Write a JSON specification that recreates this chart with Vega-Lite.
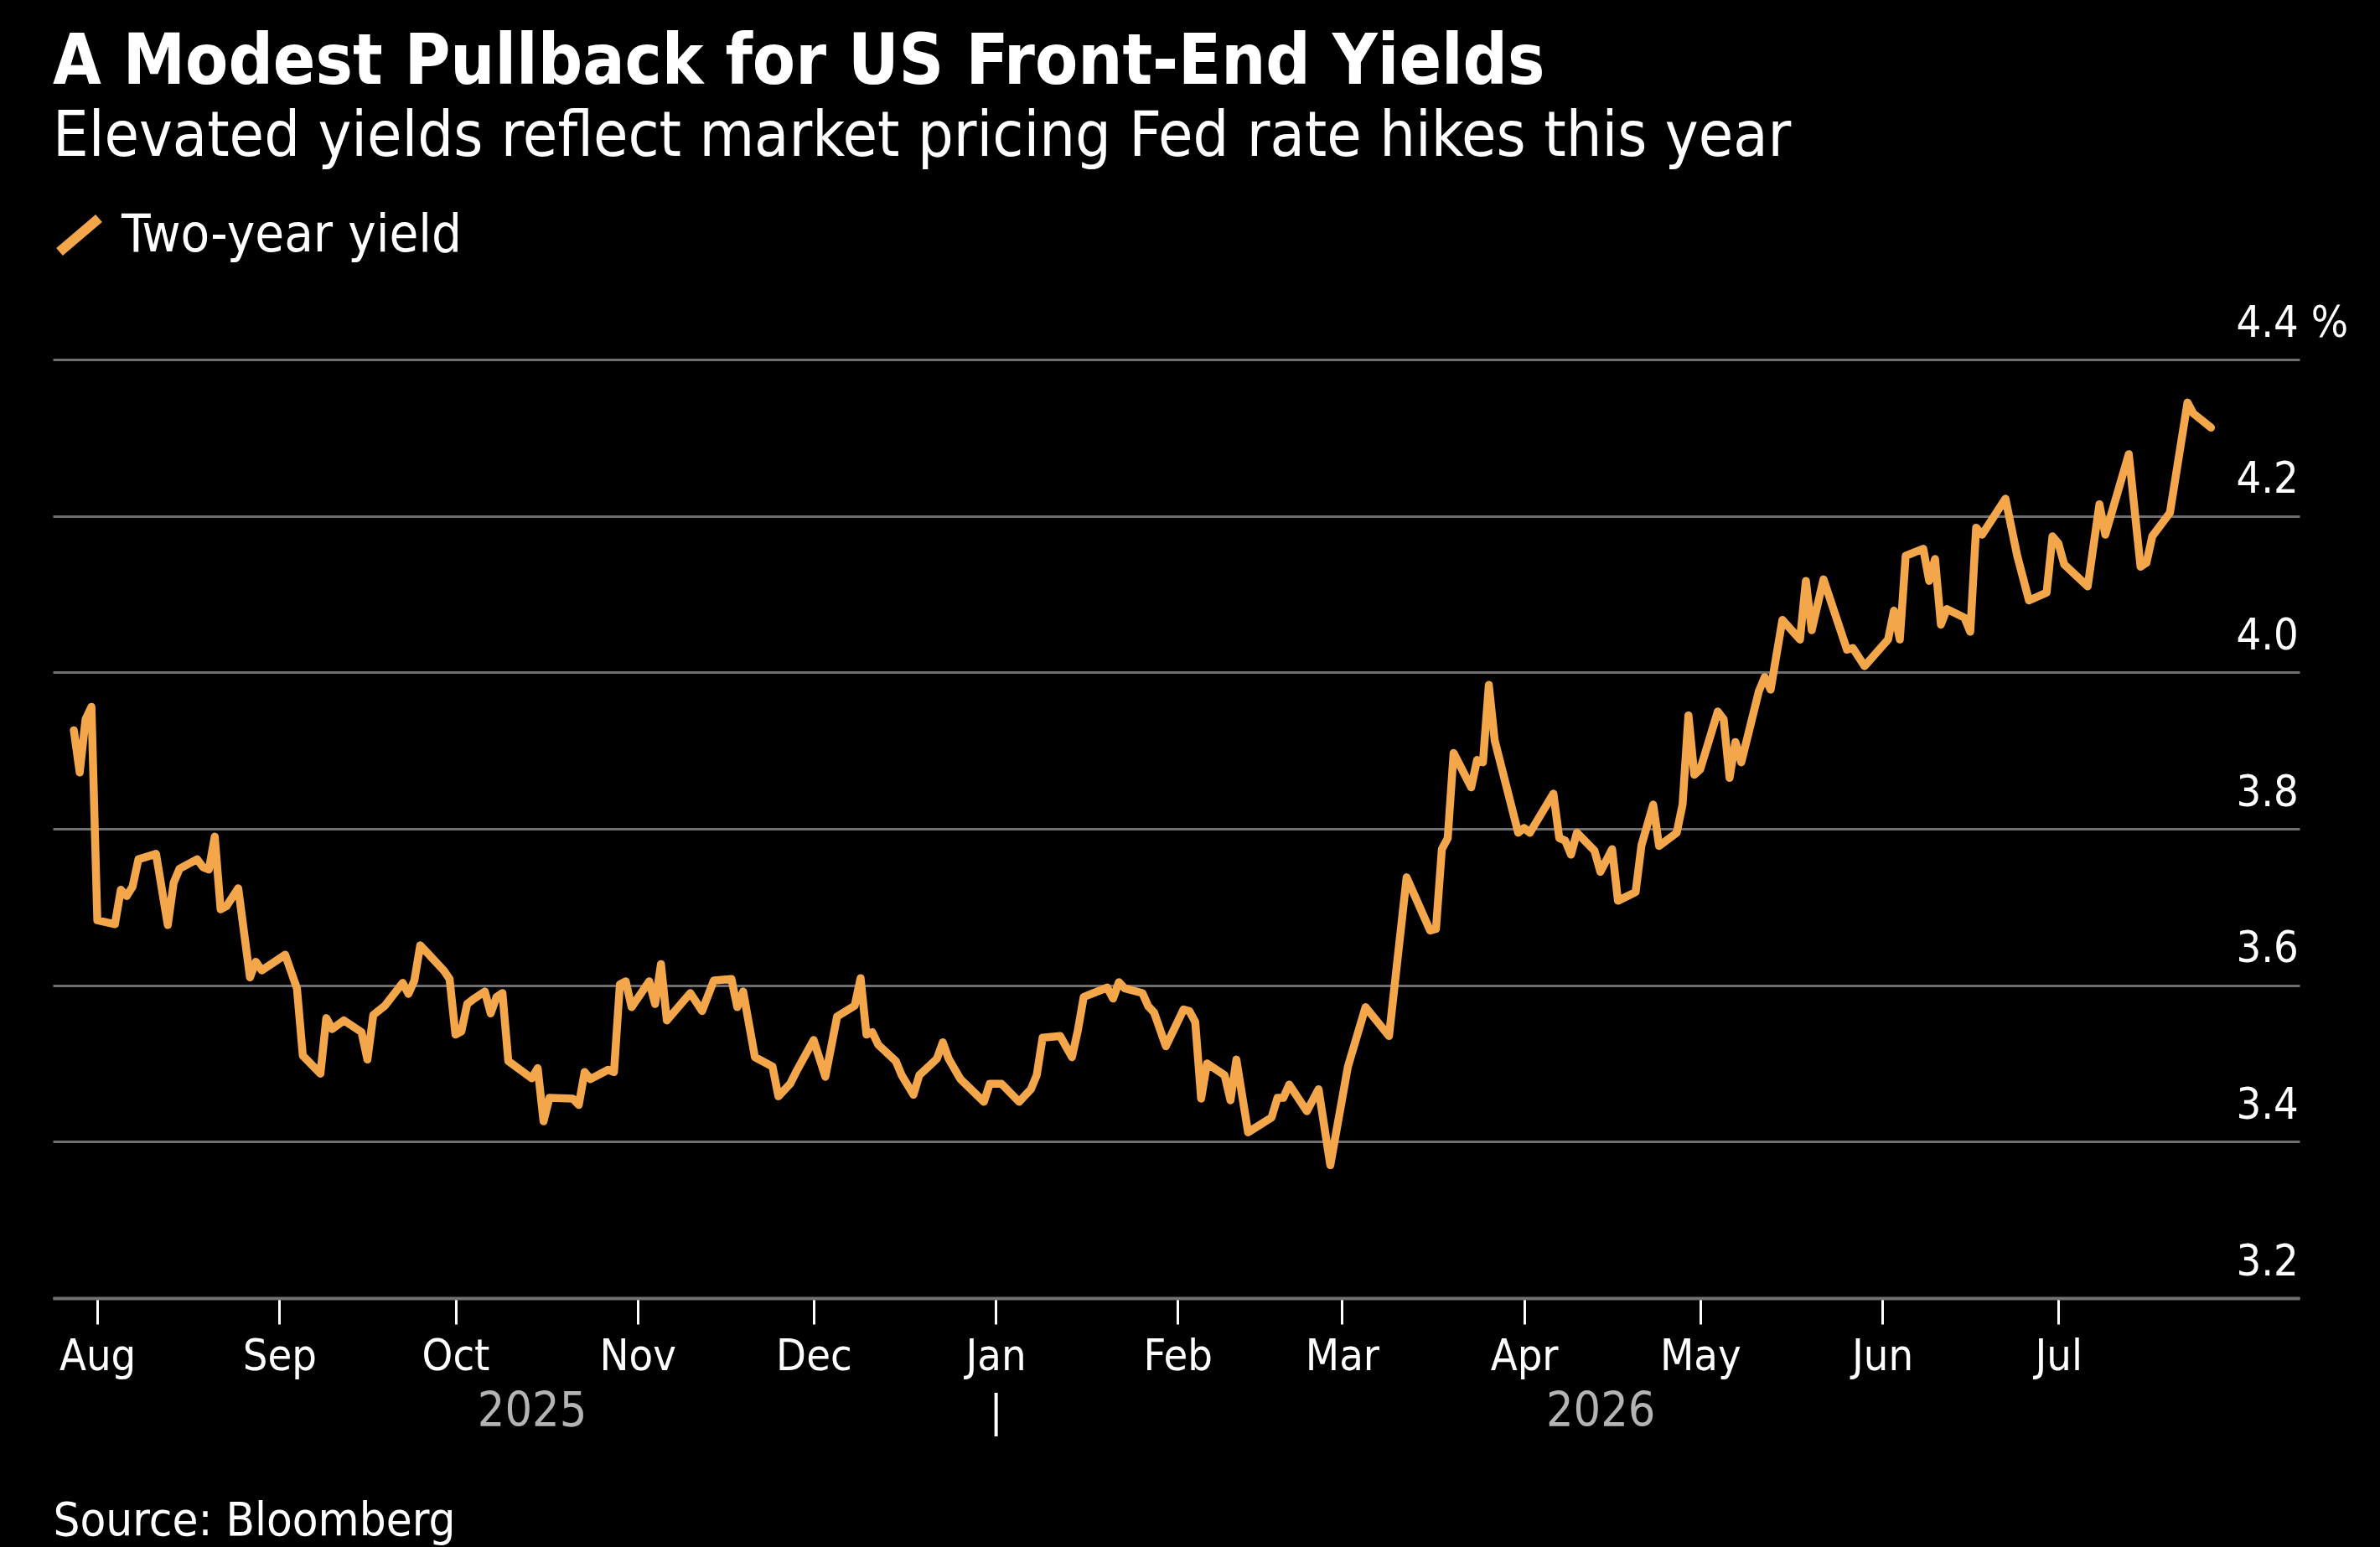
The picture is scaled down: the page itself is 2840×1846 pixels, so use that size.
{
  "$schema": "https://vega.github.io/schema/vega-lite/v6.json",
  "background": "#000000",
  "autosize": "none",
  "width": 2681,
  "height": 1120,
  "padding": {"left": 63, "top": 429, "right": 96, "bottom": 297},
  "title": {
    "text": "A Modest Pullback for US Front-End Yields",
    "subtitle": "Elevated yields reflect market pricing Fed rate hikes this year",
    "anchor": "start",
    "frame": "group",
    "orient": "top",
    "offset": 48,
    "font": "DejaVu Sans Condensed",
    "fontSize": 83,
    "fontWeight": "bold",
    "color": "#ffffff",
    "subtitleFont": "DejaVu Sans Condensed",
    "subtitleFontSize": 75,
    "subtitleColor": "#ffffff",
    "subtitlePadding": 10
  },
  "data": {
    "values": [
      {"date": "2025-07-28", "yield": 3.926},
      {"date": "2025-07-29", "yield": 3.872},
      {"date": "2025-07-30", "yield": 3.94},
      {"date": "2025-07-31", "yield": 3.956},
      {"date": "2025-08-01", "yield": 3.683},
      {"date": "2025-08-04", "yield": 3.678},
      {"date": "2025-08-05", "yield": 3.722},
      {"date": "2025-08-06", "yield": 3.714},
      {"date": "2025-08-07", "yield": 3.726},
      {"date": "2025-08-08", "yield": 3.761},
      {"date": "2025-08-11", "yield": 3.768},
      {"date": "2025-08-13", "yield": 3.677},
      {"date": "2025-08-14", "yield": 3.731},
      {"date": "2025-08-15", "yield": 3.749},
      {"date": "2025-08-18", "yield": 3.761},
      {"date": "2025-08-19", "yield": 3.751},
      {"date": "2025-08-20", "yield": 3.748},
      {"date": "2025-08-21", "yield": 3.79},
      {"date": "2025-08-22", "yield": 3.697},
      {"date": "2025-08-23", "yield": 3.701},
      {"date": "2025-08-25", "yield": 3.724},
      {"date": "2025-08-27", "yield": 3.61},
      {"date": "2025-08-28", "yield": 3.63},
      {"date": "2025-08-29", "yield": 3.619},
      {"date": "2025-09-02", "yield": 3.639},
      {"date": "2025-09-04", "yield": 3.596},
      {"date": "2025-09-05", "yield": 3.51},
      {"date": "2025-09-08", "yield": 3.487},
      {"date": "2025-09-09", "yield": 3.558},
      {"date": "2025-09-10", "yield": 3.544},
      {"date": "2025-09-12", "yield": 3.555},
      {"date": "2025-09-15", "yield": 3.54},
      {"date": "2025-09-16", "yield": 3.505},
      {"date": "2025-09-17", "yield": 3.562},
      {"date": "2025-09-19", "yield": 3.574},
      {"date": "2025-09-22", "yield": 3.603},
      {"date": "2025-09-23", "yield": 3.589},
      {"date": "2025-09-24", "yield": 3.606},
      {"date": "2025-09-25", "yield": 3.651},
      {"date": "2025-09-29", "yield": 3.619},
      {"date": "2025-09-30", "yield": 3.608},
      {"date": "2025-10-01", "yield": 3.537},
      {"date": "2025-10-02", "yield": 3.541},
      {"date": "2025-10-03", "yield": 3.576},
      {"date": "2025-10-04", "yield": 3.582},
      {"date": "2025-10-06", "yield": 3.592},
      {"date": "2025-10-07", "yield": 3.564},
      {"date": "2025-10-08", "yield": 3.585},
      {"date": "2025-10-09", "yield": 3.59},
      {"date": "2025-10-10", "yield": 3.503},
      {"date": "2025-10-14", "yield": 3.481},
      {"date": "2025-10-15", "yield": 3.494},
      {"date": "2025-10-16", "yield": 3.426},
      {"date": "2025-10-17", "yield": 3.456},
      {"date": "2025-10-21", "yield": 3.455},
      {"date": "2025-10-22", "yield": 3.447},
      {"date": "2025-10-23", "yield": 3.489},
      {"date": "2025-10-24", "yield": 3.48},
      {"date": "2025-10-27", "yield": 3.492},
      {"date": "2025-10-28", "yield": 3.489},
      {"date": "2025-10-29", "yield": 3.601},
      {"date": "2025-10-30", "yield": 3.605},
      {"date": "2025-10-31", "yield": 3.572},
      {"date": "2025-11-03", "yield": 3.605},
      {"date": "2025-11-04", "yield": 3.576},
      {"date": "2025-11-05", "yield": 3.627},
      {"date": "2025-11-06", "yield": 3.555},
      {"date": "2025-11-10", "yield": 3.59},
      {"date": "2025-11-12", "yield": 3.567},
      {"date": "2025-11-14", "yield": 3.606},
      {"date": "2025-11-17", "yield": 3.608},
      {"date": "2025-11-18", "yield": 3.572},
      {"date": "2025-11-19", "yield": 3.592},
      {"date": "2025-11-21", "yield": 3.508},
      {"date": "2025-11-24", "yield": 3.496},
      {"date": "2025-11-25", "yield": 3.458},
      {"date": "2025-11-27", "yield": 3.474},
      {"date": "2025-11-28", "yield": 3.489},
      {"date": "2025-12-01", "yield": 3.53},
      {"date": "2025-12-03", "yield": 3.483},
      {"date": "2025-12-05", "yield": 3.56},
      {"date": "2025-12-08", "yield": 3.574},
      {"date": "2025-12-09", "yield": 3.609},
      {"date": "2025-12-10", "yield": 3.537},
      {"date": "2025-12-11", "yield": 3.54},
      {"date": "2025-12-12", "yield": 3.524},
      {"date": "2025-12-15", "yield": 3.503},
      {"date": "2025-12-16", "yield": 3.485},
      {"date": "2025-12-18", "yield": 3.46},
      {"date": "2025-12-19", "yield": 3.485},
      {"date": "2025-12-22", "yield": 3.506},
      {"date": "2025-12-23", "yield": 3.527},
      {"date": "2025-12-24", "yield": 3.506},
      {"date": "2025-12-26", "yield": 3.48},
      {"date": "2025-12-30", "yield": 3.451},
      {"date": "2025-12-31", "yield": 3.474},
      {"date": "2026-01-02", "yield": 3.474},
      {"date": "2026-01-05", "yield": 3.451},
      {"date": "2026-01-07", "yield": 3.467},
      {"date": "2026-01-08", "yield": 3.485},
      {"date": "2026-01-09", "yield": 3.533},
      {"date": "2026-01-12", "yield": 3.535},
      {"date": "2026-01-14", "yield": 3.508},
      {"date": "2026-01-15", "yield": 3.542},
      {"date": "2026-01-16", "yield": 3.585},
      {"date": "2026-01-20", "yield": 3.597},
      {"date": "2026-01-21", "yield": 3.583},
      {"date": "2026-01-22", "yield": 3.604},
      {"date": "2026-01-23", "yield": 3.596},
      {"date": "2026-01-26", "yield": 3.59},
      {"date": "2026-01-27", "yield": 3.573},
      {"date": "2026-01-28", "yield": 3.565},
      {"date": "2026-01-30", "yield": 3.522},
      {"date": "2026-02-02", "yield": 3.569},
      {"date": "2026-02-03", "yield": 3.567},
      {"date": "2026-02-04", "yield": 3.553},
      {"date": "2026-02-05", "yield": 3.455},
      {"date": "2026-02-06", "yield": 3.5},
      {"date": "2026-02-09", "yield": 3.485},
      {"date": "2026-02-10", "yield": 3.453},
      {"date": "2026-02-11", "yield": 3.505},
      {"date": "2026-02-13", "yield": 3.412},
      {"date": "2026-02-17", "yield": 3.431},
      {"date": "2026-02-18", "yield": 3.456},
      {"date": "2026-02-19", "yield": 3.456},
      {"date": "2026-02-20", "yield": 3.473},
      {"date": "2026-02-23", "yield": 3.439},
      {"date": "2026-02-25", "yield": 3.467},
      {"date": "2026-02-27", "yield": 3.37},
      {"date": "2026-03-02", "yield": 3.496},
      {"date": "2026-03-05", "yield": 3.572},
      {"date": "2026-03-09", "yield": 3.535},
      {"date": "2026-03-12", "yield": 3.738},
      {"date": "2026-03-16", "yield": 3.67},
      {"date": "2026-03-17", "yield": 3.672},
      {"date": "2026-03-18", "yield": 3.774},
      {"date": "2026-03-19", "yield": 3.788},
      {"date": "2026-03-20", "yield": 3.897},
      {"date": "2026-03-23", "yield": 3.853},
      {"date": "2026-03-24", "yield": 3.888},
      {"date": "2026-03-25", "yield": 3.885},
      {"date": "2026-03-26", "yield": 3.984},
      {"date": "2026-03-27", "yield": 3.913},
      {"date": "2026-03-31", "yield": 3.795},
      {"date": "2026-04-01", "yield": 3.801},
      {"date": "2026-04-02", "yield": 3.795},
      {"date": "2026-04-06", "yield": 3.845},
      {"date": "2026-04-07", "yield": 3.788},
      {"date": "2026-04-08", "yield": 3.785},
      {"date": "2026-04-09", "yield": 3.767},
      {"date": "2026-04-10", "yield": 3.795},
      {"date": "2026-04-13", "yield": 3.772},
      {"date": "2026-04-14", "yield": 3.745},
      {"date": "2026-04-16", "yield": 3.774},
      {"date": "2026-04-17", "yield": 3.708},
      {"date": "2026-04-20", "yield": 3.719},
      {"date": "2026-04-21", "yield": 3.779},
      {"date": "2026-04-23", "yield": 3.831},
      {"date": "2026-04-24", "yield": 3.778},
      {"date": "2026-04-27", "yield": 3.795},
      {"date": "2026-04-28", "yield": 3.831},
      {"date": "2026-04-29", "yield": 3.945},
      {"date": "2026-04-30", "yield": 3.869},
      {"date": "2026-05-01", "yield": 3.876},
      {"date": "2026-05-04", "yield": 3.95},
      {"date": "2026-05-05", "yield": 3.94},
      {"date": "2026-05-06", "yield": 3.865},
      {"date": "2026-05-07", "yield": 3.911},
      {"date": "2026-05-08", "yield": 3.885},
      {"date": "2026-05-11", "yield": 3.976},
      {"date": "2026-05-12", "yield": 3.994},
      {"date": "2026-05-13", "yield": 3.978},
      {"date": "2026-05-15", "yield": 4.067},
      {"date": "2026-05-18", "yield": 4.042},
      {"date": "2026-05-19", "yield": 4.117},
      {"date": "2026-05-20", "yield": 4.054},
      {"date": "2026-05-22", "yield": 4.119},
      {"date": "2026-05-26", "yield": 4.029},
      {"date": "2026-05-27", "yield": 4.031},
      {"date": "2026-05-29", "yield": 4.008},
      {"date": "2026-06-02", "yield": 4.042},
      {"date": "2026-06-03", "yield": 4.079},
      {"date": "2026-06-04", "yield": 4.042},
      {"date": "2026-06-05", "yield": 4.149},
      {"date": "2026-06-08", "yield": 4.158},
      {"date": "2026-06-09", "yield": 4.117},
      {"date": "2026-06-10", "yield": 4.145},
      {"date": "2026-06-11", "yield": 4.061},
      {"date": "2026-06-12", "yield": 4.081},
      {"date": "2026-06-15", "yield": 4.07},
      {"date": "2026-06-16", "yield": 4.052},
      {"date": "2026-06-17", "yield": 4.185},
      {"date": "2026-06-18", "yield": 4.176},
      {"date": "2026-06-22", "yield": 4.222},
      {"date": "2026-06-24", "yield": 4.149},
      {"date": "2026-06-26", "yield": 4.092},
      {"date": "2026-06-29", "yield": 4.102},
      {"date": "2026-06-30", "yield": 4.174},
      {"date": "2026-07-01", "yield": 4.165},
      {"date": "2026-07-02", "yield": 4.138},
      {"date": "2026-07-06", "yield": 4.11},
      {"date": "2026-07-08", "yield": 4.215},
      {"date": "2026-07-09", "yield": 4.176},
      {"date": "2026-07-13", "yield": 4.279},
      {"date": "2026-07-15", "yield": 4.135},
      {"date": "2026-07-16", "yield": 4.14},
      {"date": "2026-07-17", "yield": 4.174},
      {"date": "2026-07-20", "yield": 4.204},
      {"date": "2026-07-23", "yield": 4.345},
      {"date": "2026-07-24", "yield": 4.331},
      {"date": "2026-07-27", "yield": 4.313}
    ]
  },
  "mark": {"type": "line", "strokeWidth": 9.5, "strokeJoin": "round", "strokeCap": "round"},
  "encoding": {
    "x": {
      "field": "date",
      "type": "temporal",
      "scale": {
        "type": "utc",
        "domain": [
          {"year": 2025, "month": 7, "date": 24, "hours": 10, "utc": true},
          {"year": 2026, "month": 8, "date": 11, "hours": 2, "utc": true}
        ]
      },
      "axis": {
        "title": "Source: Bloomberg",
        "titleFont": "DejaVu Sans Condensed",
        "titleFontSize": 56,
        "titleFontWeight": "normal",
        "titleColor": "#ffffff",
        "titleAnchor": "start",
        "titleAlign": "left",
        "titleBaseline": "alphabetic",
        "titleX": 0,
        "titleY": 282,
        "values": [
          {"year": 2025, "month": 8, "date": 1, "utc": true},
          {"year": 2025, "month": 9, "date": 1, "utc": true},
          {"year": 2025, "month": 10, "date": 1, "utc": true},
          {"year": 2025, "month": 10, "date": 14, "utc": true},
          {"year": 2025, "month": 11, "date": 1, "utc": true},
          {"year": 2025, "month": 12, "date": 1, "utc": true},
          {"year": 2026, "month": 1, "date": 1, "utc": true},
          {"year": 2026, "month": 2, "date": 1, "utc": true},
          {"year": 2026, "month": 3, "date": 1, "utc": true},
          {"year": 2026, "month": 4, "date": 1, "utc": true},
          {"year": 2026, "month": 4, "date": 14, "utc": true},
          {"year": 2026, "month": 5, "date": 1, "utc": true},
          {"year": 2026, "month": 6, "date": 1, "utc": true},
          {"year": 2026, "month": 7, "date": 1, "utc": true}
        ],
        "labelExpr": "utcdate(datum.value) == 14 ? utcFormat(datum.value, '%Y') : (utcmonth(datum.value) == 0 ? ['Jan', '|'] : utcFormat(datum.value, '%b'))",
        "labelOverlap": false,
        "labelFont": "DejaVu Sans Condensed",
        "labelFontSize": {"condition": {"test": "utcdate(datum.value) == 14", "value": 57}, "value": 52},
        "labelColor": {"condition": {"test": "utcdate(datum.value) == 14", "value": "#b4b4b4"}, "value": "#ffffff"},
        "labelPadding": {"condition": {"test": "utcdate(datum.value) == 14", "value": 121}, "value": 54},
        "labelBaseline": "alphabetic",
        "labelLineHeight": 66,
        "labelAlign": "center",
        "ticks": true,
        "tickSize": 31,
        "tickWidth": 3,
        "tickColor": "#ffffff",
        "tickOpacity": {"condition": {"test": "utcdate(datum.value) == 14", "value": 0}, "value": 1},
        "domain": true,
        "domainColor": "#707070",
        "domainWidth": 4,
        "grid": false
      }
    },
    "y": {
      "field": "yield",
      "type": "quantitative",
      "scale": {"domain": [3.2, 4.4], "zero": false, "nice": false},
      "axis": {
        "orient": "right",
        "title": null,
        "values": [3.2, 3.4, 3.6, 3.8, 4.0, 4.2, 4.4],
        "labelExpr": "datum.value == 4.4 ? '4.4 %' : format(datum.value, '.1f')",
        "labelFont": "DejaVu Sans Condensed",
        "labelFontSize": 52,
        "labelColor": "#ffffff",
        "labelAlign": "left",
        "labelBaseline": "alphabetic",
        "labelPadding": -76,
        "labelOffset": -28,
        "labelOverlap": false,
        "labelBound": false,
        "labelFlush": false,
        "ticks": false,
        "tickSize": 0,
        "domain": false,
        "grid": true,
        "gridColor": "#6e6e6e",
        "gridWidth": 3
      }
    },
    "color": {
      "datum": "Two-year yield",
      "type": "nominal",
      "scale": {"range": ["#F3A64A"]},
      "legend": {
        "title": null,
        "orient": "none",
        "legendX": 0,
        "legendY": -180,
        "symbolType": "M -1 0.85 L 1 -0.85",
        "symbolSize": 2209,
        "symbolStrokeWidth": 12,
        "symbolStrokeColor": "#F3A64A",
        "labelFont": "DejaVu Sans Condensed",
        "labelFontSize": 63,
        "labelColor": "#ffffff",
        "labelOffset": 19,
        "labelLimit": 0,
        "padding": 0
      }
    }
  },
  "config": {
    "view": {"stroke": null}
  }
}
